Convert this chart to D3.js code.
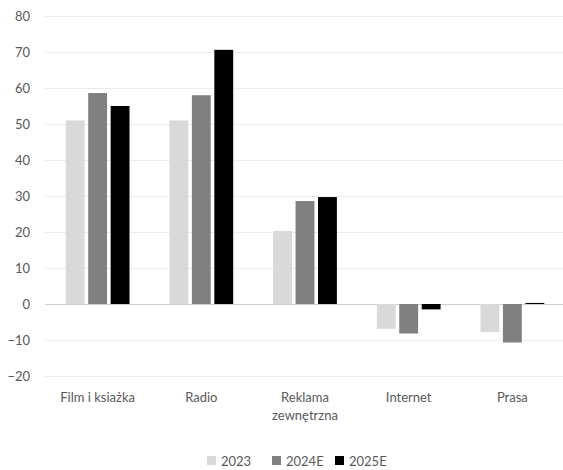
<!DOCTYPE html>
<html><head><meta charset="utf-8">
<script src="https://cdn.jsdelivr.net/npm/d3@7"></script>
<style>body{margin:0;background:#fff;}text{font-family:Lato,"Open Sans",sans-serif;}</style>
</head><body><svg id="c" width="563" height="470"></svg>
<script>
const categories = [["Film i ksiażka"], ["Radio"], ["Reklama", "zewnętrzna"], ["Internet"], ["Prasa"]];
const seriesNames = ["2023", "2024E", "2025E"];
const v2023 = [51, 51, 20.3, -6.9, -7.8];
const v2024 = [58.6, 58, 28.6, -8.2, -10.7];
const v2025 = [55, 70.6, 29.7, -1.5, 0.3];
const yTicks = [-20, -10, 0, 10, 20, 30, 40, 50, 60, 70, 80];
const colors = ["#d9d9d9", "#808080", "#000000"];
const series = [v2023, v2024, v2025];

const svg = d3.select("#c");
const m = {l: 45, r: -2, t: 16, b: 94};
const W = 563, H = 470;
const x = d3.scaleBand().domain(d3.range(categories.length)).range([m.l, W - m.r]).paddingInner(0.385).paddingOuter(0.2);
const xs = d3.scaleBand().domain(d3.range(3)).range([0, x.bandwidth()]).paddingInner(0.16);
const y = d3.scaleLinear().domain([-20, 80]).range([H - m.b, m.t]);

const g = svg.append("g");
g.selectAll("line.grid").data(yTicks).join("line")
  .attr("x1", m.l).attr("x2", W)
  .attr("y1", d => Math.round(y(d)) + 0.5).attr("y2", d => Math.round(y(d)) + 0.5)
  .attr("stroke", d => d === 0 ? "#d0d0d0" : "#ececec").attr("stroke-width", 1);

const yAxis = d3.axisLeft(y).tickValues(yTicks).tickSize(0).tickPadding(0);
const ya = svg.append("g").attr("transform", `translate(30,0)`).call(yAxis);
ya.select(".domain").remove();
ya.selectAll("text").attr("font-size", 13).attr("fill", "#595959").style("font-family", "Lato, 'Open Sans', sans-serif");

series.forEach((s, si) => {
  g.selectAll(null).data(s).join("rect")
    .attr("x", (d, i) => x(i) + xs(si))
    .attr("width", xs.bandwidth())
    .attr("y", d => y(Math.max(0, d)))
    .attr("height", d => Math.abs(y(d) - y(0)))
    .attr("fill", colors[si]);
});

const cl = svg.append("g");
categories.forEach((c, i) => {
  const t = cl.append("text").attr("x", x(i) + x.bandwidth() / 2).attr("y", 402)
    .attr("text-anchor", "middle").attr("font-size", 13).attr("fill", "#595959");
  c.forEach((line, k) => t.append("tspan").attr("x", x(i) + x.bandwidth() / 2).attr("dy", k ? 18 : 0).text(line));
});

const legX = [207, 272, 335];
const lg = svg.append("g");
seriesNames.forEach((n, i) => {
  lg.append("rect").attr("x", legX[i]).attr("y", 456).attr("width", 9).attr("height", 9).attr("fill", colors[i]);
  lg.append("text").attr("x", legX[i] + 14).attr("y", 466).attr("font-size", 13).attr("fill", "#595959").text(n);
});
</script></body></html>
